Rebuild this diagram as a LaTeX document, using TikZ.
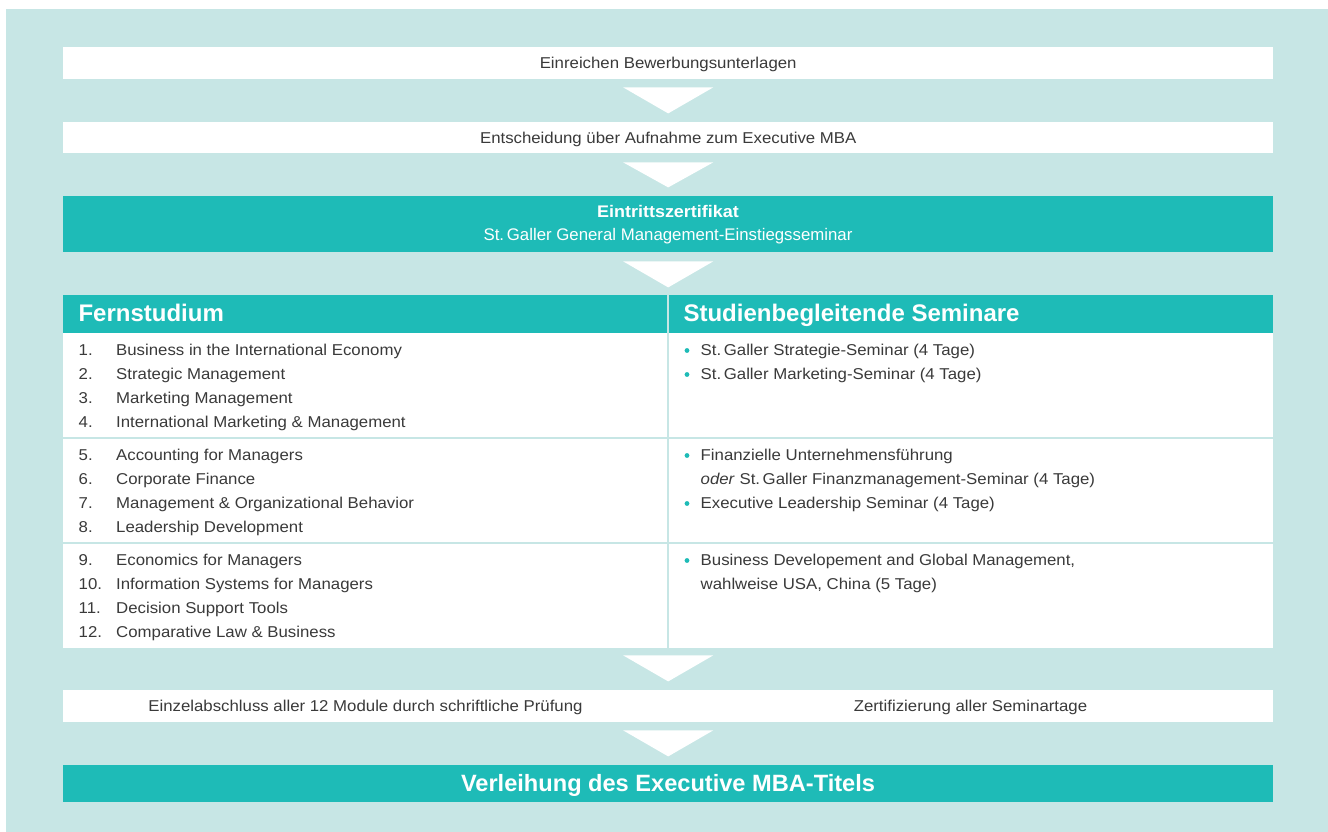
\documentclass[tikz,border=0pt]{standalone}
\usepackage{fontspec}
\setmainfont{Liberation Sans}
\newfontfamily\bodyfont{Liberation Sans}[FakeStretch=1.07]
\usetikzlibrary{calc}
\definecolor{bgc}{RGB}{199,230,229}
\definecolor{tealc}{RGB}{30,187,183}
\definecolor{txt}{RGB}{58,58,58}
\begin{document}
\begin{tikzpicture}[x=1pt,y=-1pt,
  body/.style={font=\bodyfont\fontsize{15.7}{24}\selectfont, text=txt, inner sep=0pt},
  whitebox/.style={fill=white, inner sep=0pt, minimum width=1210pt, anchor=north west},
  tealbox/.style={fill=tealc, inner sep=0pt, minimum width=1210pt, anchor=north west},
  captext/.style={text height=11.3pt, text depth=0pt},
  headtext/.style={font=\fontsize{24}{28}\selectfont\bfseries, text=white, inner sep=0pt, anchor=base west},
  num/.style={body, anchor=base west},
  item/.style={body, anchor=base west},
  dot/.style={circle, fill=tealc, inner sep=0pt, minimum size=4.8pt},
  sep/.style={draw=bgc, line width=2pt},
  arrowtri/.style={fill=white}
]
\useasboundingbox (0,0) rectangle (1328,832);
\fill[bgc] (6,9) rectangle (1328,832);

% Box 1
\node[whitebox, minimum height=32pt] (b1) at (63,47) {};
\node[body, captext] (t1) at (b1.center) {Einreichen Bewerbungsunterlagen};
\fill[arrowtri] ($(b1.south)+(-45,8)$) -- ($(b1.south)+(45,8)$) -- ($(b1.south)+(0,34)$) -- cycle;

% Box 2
\node[whitebox, minimum height=31pt] (b2) at (63,122) {};
\node[body, captext] (t2) at (b2.center) {Entscheidung über Aufnahme zum Executive MBA};
\fill[arrowtri] ($(b2.south)+(-45,9)$) -- ($(b2.south)+(45,9)$) -- ($(b2.south)+(0,34)$) -- cycle;

% Box 3 (teal)
\node[tealbox, minimum height=56pt] (b3) at (63,196) {};
\node[font=\bodyfont\fontsize{16.8}{20}\selectfont\bfseries, text=white, inner sep=0pt, anchor=base] (t3a) at (668,217.3) {Eintrittszertifikat};
\node[font=\fontsize{16.8}{20}\selectfont, text=white, inner sep=0pt, anchor=base] (t3b) at (668,240.7) {St.\,Galler General Management-Einstiegsseminar};
\fill[arrowtri] ($(b3.south)+(-45,9)$) -- ($(b3.south)+(45,9)$) -- ($(b3.south)+(0,35)$) -- cycle;

% Table header
\node[tealbox, minimum height=38pt] (hd) at (63,295) {};
\node[headtext] (h1) at (78.3,321.7) {Fernstudium};
\node[headtext] (h2) at (683.3,321.7) {Studienbegleitende Seminare};

% Table body
\node[whitebox, minimum height=315pt] (tb) at (63,333) {};
\draw[sep] (63,438) -- (1273,438);
\draw[sep] (63,543) -- (1273,543);
\draw[sep] (668,295) -- (668,648);

% Left column
\node[num] (n1) at (78.5,355.7) {1.};
\node[item] (m1) at (116,355.7) {Business in the International Economy};
\node[num] (n2) at (78.5,379.7) {2.};
\node[item] (m2) at (116,379.7) {Strategic Management};
\node[num] (n3) at (78.5,403.7) {3.};
\node[item] (m3) at (116,403.7) {Marketing Management};
\node[num] (n4) at (78.5,427.7) {4.};
\node[item] (m4) at (116,427.7) {International Marketing \& Management};

\node[num] (n5) at (78.5,460.7) {5.};
\node[item] (m5) at (116,460.7) {Accounting for Managers};
\node[num] (n6) at (78.5,484.7) {6.};
\node[item] (m6) at (116,484.7) {Corporate Finance};
\node[num] (n7) at (78.5,508.7) {7.};
\node[item] (m7) at (116,508.7) {Management \& Organizational Behavior};
\node[num] (n8) at (78.5,532.7) {8.};
\node[item] (m8) at (116,532.7) {Leadership Development};

\node[num] (n9) at (78.5,565.7) {9.};
\node[item] (m9) at (116,565.7) {Economics for Managers};
\node[num] (n10) at (78.5,589.7) {10.};
\node[item] (m10) at (116,589.7) {Information Systems for Managers};
\node[num] (n11) at (78.5,613.7) {11.};
\node[item] (m11) at (116,613.7) {Decision Support Tools};
\node[num] (n12) at (78.5,637.7) {12.};
\node[item] (m12) at (116,637.7) {Comparative Law \& Business};

% Right column
\node[dot] (d1) at (687,350.5) {};
\node[item] (s1) at (700.5,355.7) {St.\,Galler Strategie-Seminar (4 Tage)};
\node[dot] (d2) at (687,374.5) {};
\node[item] (s2) at (700.5,379.7) {St.\,Galler Marketing-Seminar (4 Tage)};

\node[dot] (d3) at (687,455.5) {};
\node[item] (s3) at (700.5,460.7) {Finanzielle Unternehmensführung};
\node[item] (s3b) at (700.5,484.7) {\textit{oder} St.\,Galler Finanzmanagement-Seminar (4 Tage)};
\node[dot] (d4) at (687,503.5) {};
\node[item] (s4) at (700.5,508.7) {Executive Leadership Seminar (4 Tage)};

\node[dot] (d5) at (687,560.5) {};
\node[item] (s5) at (700.5,565.7) {Business Developement and Global Management,};
\node[item] (s5b) at (700.5,589.7) {wahlweise USA, China (5 Tage)};

\fill[arrowtri] ($(tb.south)+(-45,7)$) -- ($(tb.south)+(45,7)$) -- ($(tb.south)+(0,33)$) -- cycle;

% Box 5
\node[whitebox, minimum height=32pt] (b5) at (63,690) {};
\node[body, captext] (t5a) at (365.5,706) {Einzelabschluss aller 12 Module durch schriftliche Prüfung};
\node[body, captext] (t5b) at (970.5,706) {Zertifizierung aller Seminartage};
\fill[arrowtri] ($(b5.south)+(-45,8)$) -- ($(b5.south)+(45,8)$) -- ($(b5.south)+(0,34)$) -- cycle;

% Final box
\node[tealbox, minimum height=37pt] (b6) at (63,765) {};
\node[font=\fontsize{23.6}{28}\selectfont\bfseries, text=white, inner sep=0pt, anchor=base] (t6) at (668,791.7) {Verleihung des Executive MBA-Titels};
\end{tikzpicture}
\end{document}
